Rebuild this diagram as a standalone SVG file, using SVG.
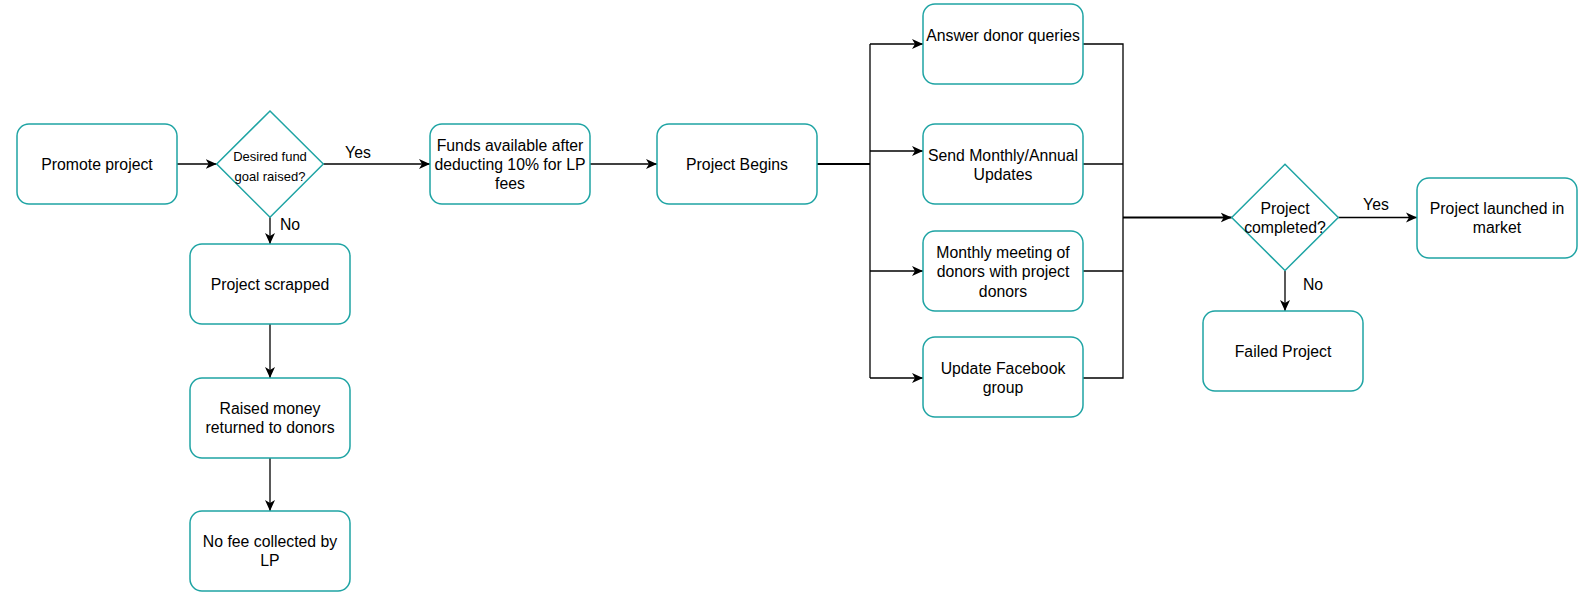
<svg xmlns="http://www.w3.org/2000/svg" width="1590" height="598" viewBox="0 0 1590 598">
<defs>
<style>
.box{fill:#fff;stroke:#1fa4a4;stroke-width:1.5}
.t{font-family:"Liberation Sans",Arial,Helvetica,sans-serif;font-size:15.8px;fill:#000;text-anchor:middle;dominant-baseline:central}
.ts{font-size:13px}
.c{fill:none;stroke:#000;stroke-width:1.3}
.c2{fill:none;stroke:#000;stroke-width:2}
</style>
<marker id="arr" markerUnits="userSpaceOnUse" markerWidth="12" markerHeight="11" refX="11" refY="5" orient="auto" viewBox="0 0 12 10">
<path d="M0,0 L11,5 L0,10 L3,5 Z" fill="#000"/>
</marker>
</defs>
<rect width="1590" height="598" fill="#fff"/>

<g id="connectors">
<path class="c" d="M177,164 H216.7" marker-end="url(#arr)"/>
<path class="c" d="M323.3,164 H430" marker-end="url(#arr)"/>
<text class="t" x="358" y="152">Yes</text>
<path class="c" d="M270,217.3 V244" marker-end="url(#arr)"/>
<text class="t" x="290" y="224">No</text>
<path class="c" d="M270,324 V378" marker-end="url(#arr)"/>
<path class="c" d="M270,458 V511" marker-end="url(#arr)"/>
<path class="c" d="M590,164 H657" marker-end="url(#arr)"/>
<path class="c2" d="M817,164 H870"/>
<path class="c" d="M870,44 V378"/>
<path class="c" d="M870,44 H923" marker-end="url(#arr)"/>
<path class="c" d="M870,151 H923" marker-end="url(#arr)"/>
<path class="c" d="M870,271 H923" marker-end="url(#arr)"/>
<path class="c" d="M870,378 H923" marker-end="url(#arr)"/>
<path class="c" d="M1083,44 H1123 V378 H1083"/>
<path class="c" d="M1083,164 H1123"/>
<path class="c" d="M1083,271 H1123"/>
<path class="c2" d="M1123,217.5 H1231.7" marker-end="url(#arr)"/>
<path class="c" d="M1338.3,217.5 H1417" marker-end="url(#arr)"/>
<text class="t" x="1376" y="204">Yes</text>
<path class="c" d="M1285,270.5 V311" marker-end="url(#arr)"/>
<text class="t" x="1313" y="284">No</text>
</g>

<g id="promote">
<rect class="box" x="17" y="124" width="160" height="80" rx="12"/>
<text class="t" x="97" y="164">Promote project</text>
</g>
<g id="decision-fund">
<polygon class="box" points="270,111 323.3,164 270,217.3 216.7,164"/>
<text class="t ts" x="270" y="156.7">Desired fund</text>
<text class="t ts" x="270" y="176">goal raised?</text>
</g>
<g id="funds">
<rect class="box" x="430" y="124" width="160" height="80" rx="12"/>
<text class="t" x="510" y="145">Funds available after</text>
<text class="t" x="510" y="164">deducting 10% for LP</text>
<text class="t" x="510" y="183">fees</text>
</g>
<g id="begins">
<rect class="box" x="657" y="124" width="160" height="80" rx="12"/>
<text class="t" x="737" y="164">Project Begins</text>
</g>
<g id="answer">
<rect class="box" x="923" y="4" width="160" height="80" rx="12"/>
<text class="t" x="1003" y="35.5">Answer donor queries</text>
</g>
<g id="send">
<rect class="box" x="923" y="124" width="160" height="80" rx="12"/>
<text class="t" x="1003" y="155">Send Monthly/Annual</text>
<text class="t" x="1003" y="174">Updates</text>
</g>
<g id="meeting">
<rect class="box" x="923" y="231" width="160" height="80" rx="12"/>
<text class="t" x="1003" y="252">Monthly meeting of</text>
<text class="t" x="1003" y="271.5">donors with project</text>
<text class="t" x="1003" y="291">donors</text>
</g>
<g id="facebook">
<rect class="box" x="923" y="337" width="160" height="80" rx="12"/>
<text class="t" x="1003" y="368.5">Update Facebook</text>
<text class="t" x="1003" y="387.5">group</text>
</g>
<g id="decision-complete">
<polygon class="box" points="1285,164.3 1338.3,217.5 1285,270.5 1231.7,217.5"/>
<text class="t" x="1285" y="208">Project</text>
<text class="t" x="1285" y="227.5">completed?</text>
</g>
<g id="launched">
<rect class="box" x="1417" y="178" width="160" height="80" rx="12"/>
<text class="t" x="1497" y="208.5">Project launched in</text>
<text class="t" x="1497" y="227.5">market</text>
</g>
<g id="failed">
<rect class="box" x="1203" y="311" width="160" height="80" rx="12"/>
<text class="t" x="1283" y="351">Failed Project</text>
</g>
<g id="scrapped">
<rect class="box" x="190" y="244" width="160" height="80" rx="12"/>
<text class="t" x="270" y="284">Project scrapped</text>
</g>
<g id="raised">
<rect class="box" x="190" y="378" width="160" height="80" rx="12"/>
<text class="t" x="270" y="408.5">Raised money</text>
<text class="t" x="270" y="427.5">returned to donors</text>
</g>
<g id="nofee">
<rect class="box" x="190" y="511" width="160" height="80" rx="12"/>
<text class="t" x="270" y="541.5">No fee collected by</text>
<text class="t" x="270" y="560.5">LP</text>
</g>
</svg>
